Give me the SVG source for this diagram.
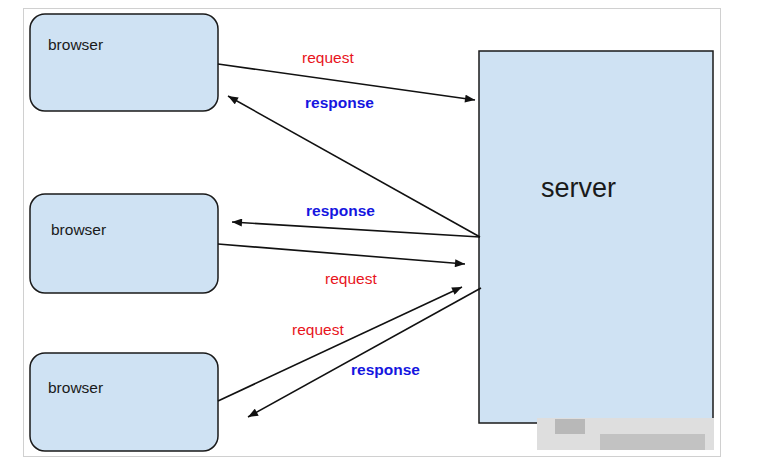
<svg xmlns="http://www.w3.org/2000/svg" width="762" height="470" viewBox="0 0 762 470">
<defs>
<style>
.box{fill:#cfe2f3;stroke:#1a1a1a;stroke-width:1.5}
.lbl{font-family:"Liberation Sans",Arial,sans-serif;font-size:15.5px;fill:#1a1a1a}
.req{font-family:"Liberation Sans",Arial,sans-serif;font-size:15.5px;fill:#e8141c}
.resp{font-family:"Liberation Sans",Arial,sans-serif;font-size:15.5px;font-weight:bold;fill:#1515e0}
.edge{stroke:#111;stroke-width:1.6;fill:none;marker-end:url(#ah)}
</style>
<marker id="ah" viewBox="0 0 10 8" refX="10" refY="4" markerWidth="11" markerHeight="8" markerUnits="userSpaceOnUse" orient="auto">
<path d="M0,0 L10,4 L0,8 Z" fill="#111"/>
</marker>
</defs>
<rect x="0" y="0" width="762" height="470" fill="#fff"/>
<rect x="23.5" y="8.5" width="697" height="448" fill="none" stroke="#d0d0d0" stroke-width="1"/>
<g id="server">
<rect class="box" x="479" y="51" width="234" height="372"/>
<text x="541" y="197" font-family="'Liberation Sans',Arial,sans-serif" font-size="27" fill="#1a1a1a">server</text>
</g>
<g id="browser1">
<rect class="box" x="30" y="14" width="188" height="97" rx="15"/>
<text class="lbl" x="48" y="50">browser</text>
</g>
<g id="browser2">
<rect class="box" x="30" y="194" width="188" height="99" rx="15"/>
<text class="lbl" x="51" y="235">browser</text>
</g>
<g id="browser3">
<rect class="box" x="30" y="353" width="188" height="98" rx="15"/>
<text class="lbl" x="48" y="393">browser</text>
</g>
<g id="connectors">
<line class="edge" x1="218" y1="64" x2="475" y2="100"/>
<line class="edge" x1="480" y1="237" x2="228" y2="96"/>
<line class="edge" x1="480" y1="237" x2="232" y2="222"/>
<line class="edge" x1="218" y1="244" x2="465" y2="264"/>
<line class="edge" x1="218" y1="401" x2="462" y2="287"/>
<line class="edge" x1="481" y1="288" x2="248" y2="417"/>
<text class="req" x="302" y="63">request</text>
<text class="resp" x="305" y="108">response</text>
<text class="resp" x="306" y="216">response</text>
<text class="req" x="325" y="284">request</text>
<text class="req" x="292" y="335">request</text>
<text class="resp" x="351" y="375">response</text>
</g>
<g id="watermark">
<rect x="537" y="418" width="177" height="32" fill="#dedede"/>
<rect x="555" y="419" width="30" height="15" fill="#b8b8b8"/>
<rect x="600" y="434" width="105" height="16" fill="#c2c2c2"/>
</g>
</svg>
